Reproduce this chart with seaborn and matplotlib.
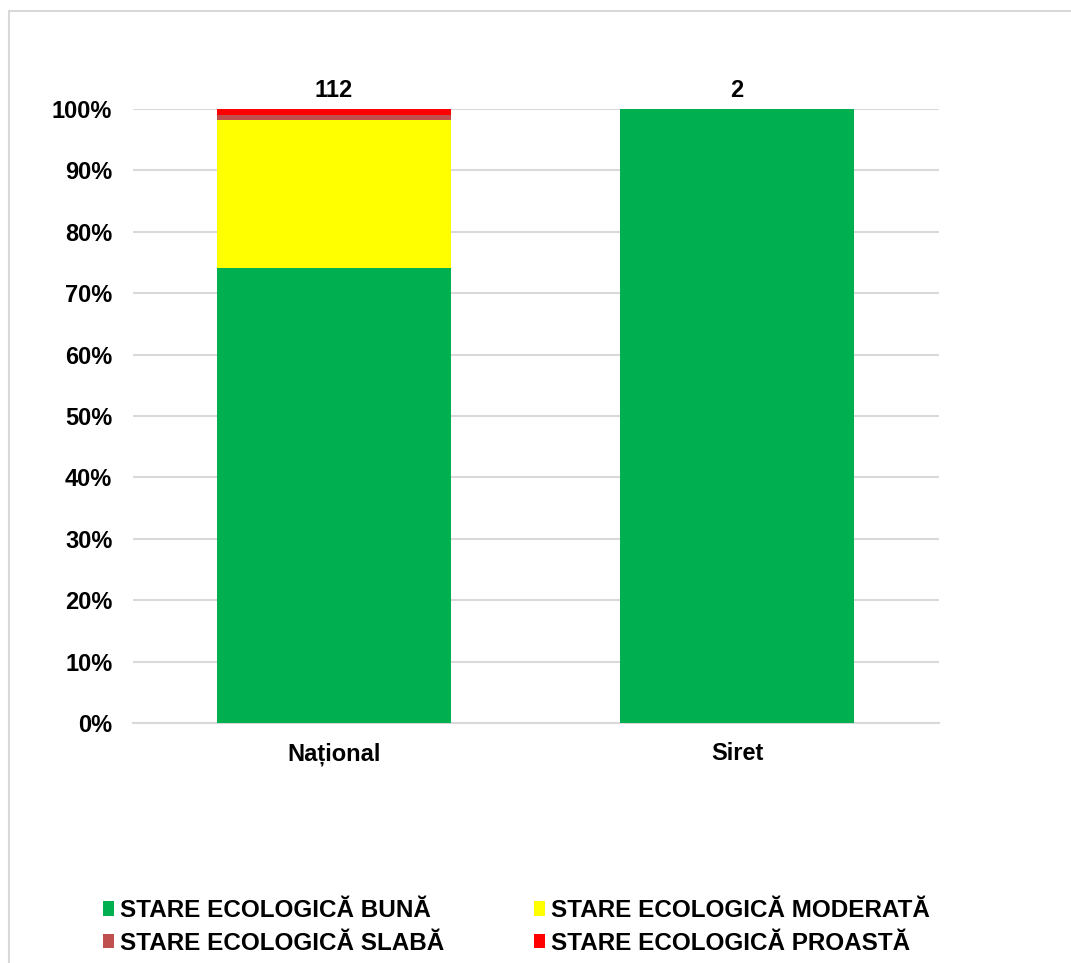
import matplotlib
matplotlib.use("Agg")
import matplotlib.pyplot as plt
import seaborn as sns
import pandas as pd
import numpy as np
from matplotlib.patches import Patch
from matplotlib.lines import Line2D

categories = ["Național", "Siret"]
totals = ["112", "2"]
buna = [74.1, 100.0]
moderata = [24.1, 0.0]
slaba = [0.9, 0.0]
proasta = [0.9, 0.0]

series_names = ["STARE ECOLOGICĂ BUNĂ", "STARE ECOLOGICĂ MODERATĂ",
                "STARE ECOLOGICĂ SLABĂ", "STARE ECOLOGICĂ PROASTĂ"]
colors = ["#00b050", "#ffff00", "#c0504d", "#ff0000"]

sns.set_theme(style="white")
plt.rcParams["font.family"] = ["Liberation Sans", "DejaVu Sans"]
plt.rcParams["font.weight"] = "bold"
plt.rcParams["text.color"] = "black"
plt.rcParams["xtick.color"] = "black"
plt.rcParams["ytick.color"] = "black"

W, H = 1071, 963
fig = plt.figure(figsize=(W / 100, H / 100), dpi=100)
ax = fig.add_axes([132.5 / W, 1 - 723 / H, 806 / W, 614 / H])

layers = [buna, moderata, slaba, proasta]
cum = np.cumsum(np.array(layers), axis=0)
# draw from the top of the stack down so each layer shows
for i in range(len(layers) - 1, -1, -1):
    df = pd.DataFrame({"cat": categories, "val": cum[i]})
    sns.barplot(data=df, x="cat", y="val", color=colors[i], width=0.58,
                saturation=1, ax=ax, zorder=3, linewidth=0)

ax.set_xlim(-0.5, 1.5)
ax.set_ylim(0, 100)
ax.set_yticks(np.arange(0, 101, 10))
ax.set_yticklabels([f"{v}%" for v in range(0, 101, 10)])
ax.yaxis.grid(True, color="#d9d9d9", linewidth=1.5, zorder=0)
ax.xaxis.grid(False)
ax.set_xlabel("")
ax.set_ylabel("")
for s in ["left", "right", "top"]:
    ax.spines[s].set_visible(False)
ax.spines["bottom"].set_color("#d9d9d9")
ax.spines["bottom"].set_linewidth(1.5)
ax.tick_params(axis="y", length=0, pad=14.5, labelsize=17, labelcolor="black")
ax.tick_params(axis="x", length=0, pad=14, labelsize=17, labelcolor="black")
for lbl in ax.get_xticklabels() + ax.get_yticklabels():
    lbl.set_fontweight("bold")

for x, t, top in zip(range(len(categories)), totals, cum[-1]):
    ax.text(x, top + 1.1, t, ha="center", va="bottom", fontsize=17,
            fontweight="bold", color="black")

handles = [Patch(facecolor=c, edgecolor="none") for c in colors]
order = [0, 2, 1, 3]
leg = fig.legend([handles[i] for i in order], [series_names[i] for i in order],
                 ncol=2, loc="upper left", bbox_to_anchor=(103 / W, 1 - 899 / H),
                 frameon=False, fontsize=17.5, handlelength=0.45, handleheight=0.55,
                 handletextpad=0.25, columnspacing=3.7, labelspacing=0.4,
                 borderpad=0, borderaxespad=0)
for t in leg.get_texts():
    t.set_fontweight("bold")
    t.set_color("black")

# outer frame (top and left edges visible)
fig.add_artist(Line2D([9 / W, 9 / W], [0, 1 - 11 / H], color="#d9d9d9",
                      linewidth=1.5, transform=fig.transFigure))
fig.add_artist(Line2D([9 / W, 1], [1 - 11 / H, 1 - 11 / H], color="#d9d9d9",
                      linewidth=1.5, transform=fig.transFigure))

fig.savefig("out.png", dpi=100)
